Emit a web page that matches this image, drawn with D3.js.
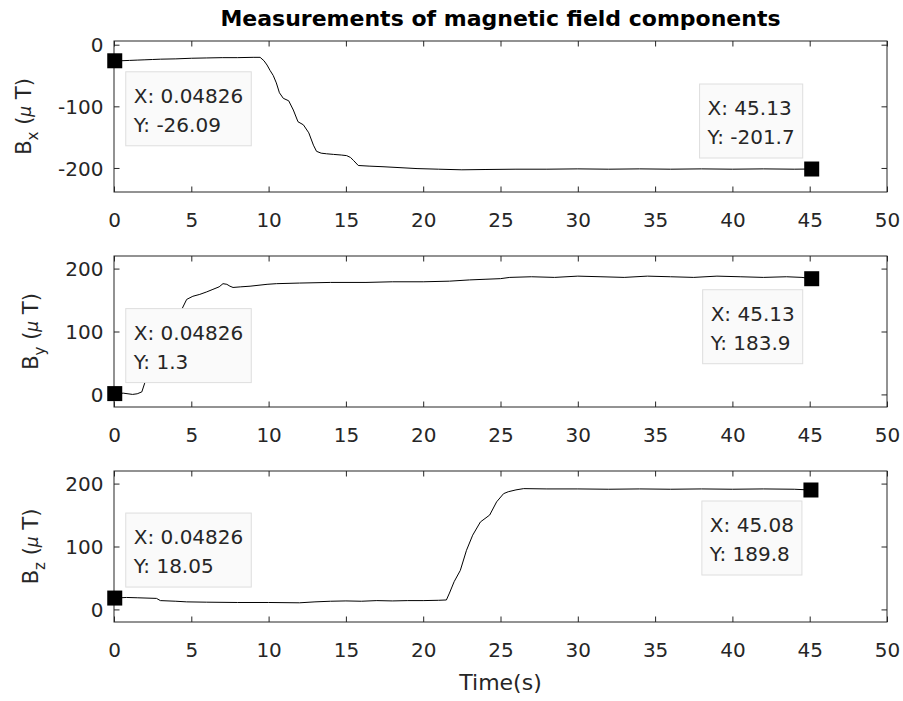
<!DOCTYPE html>
<html>
<head>
<meta charset="utf-8">
<script src="https://cdn.jsdelivr.net/npm/d3@7"></script>
<style>
  body { margin: 0; background: #fff; }
  svg { display: block; font-family: "DejaVu Sans", sans-serif; }
</style>
</head>
<body>
<svg id="chart"></svg>
<script>
// readings taken off the figure
const xTickValues = [0, 5, 10, 15, 20, 25, 30, 35, 40, 45, 50];

const bxTime = [0.048, 0.5, 1.0, 1.5, 2.0, 2.5, 3, 4, 5, 6, 7, 8, 9, 9.45, 9.7, 9.9, 10.1, 10.3, 10.5, 10.7, 10.95, 11.3, 11.6, 11.9, 12.25, 12.6, 12.9, 13.1, 13.4, 13.75, 14.2, 14.7, 15.05, 15.3, 15.5, 15.8, 16.5, 17.4, 18.5, 19.6, 21, 22.5, 24, 26, 28, 30, 32, 34, 36, 38, 40, 42, 44, 45.13];
const bxValues = [-26.09, -26, -25.5, -25, -24.5, -24, -23.5, -23, -22, -21.5, -21, -21, -20.5, -20.5, -26, -33, -42, -50, -62, -78, -87, -91, -106, -125, -130, -143, -163, -173, -176, -177, -178, -179, -180, -183, -188, -196, -197, -198, -199.5, -201, -202, -203, -202.5, -202, -202, -201.5, -202, -201.5, -202, -201.5, -202, -201.5, -202, -201.7];

const byTime = [0.048, 0.6, 1.2, 1.5, 1.8, 2.0, 2.3, 2.7, 3.2, 3.7, 4.1, 4.4, 4.7, 5.1, 5.55, 6.0, 6.4, 6.8, 7.05, 7.3, 7.5, 7.7, 8.2, 8.8, 9.9, 10.5, 12, 14, 16.3, 18, 20, 21.7, 23, 24, 25, 25.6, 27, 28.5, 30, 31.5, 33, 34.5, 36, 37.5, 39, 40.5, 42, 43.5, 44.5, 45.13];
const byValues = [1.3, 2, 0, 1, 4, 19, 40, 65, 90, 112, 128, 136, 151, 156, 159, 163, 167, 171, 176, 175, 172, 170, 171, 172, 175, 176, 177, 178, 178, 179, 179, 180, 182, 183, 184, 186, 187, 186, 188, 187, 186, 188, 187, 186, 188, 187, 186, 187, 186, 183.9];

const bzTime = [0.048, 0.8, 1.5, 2.75, 3.0, 4.0, 4.7, 6, 8, 10, 12, 13, 14, 15, 16, 17, 18, 19, 20, 21, 21.5, 21.7, 22.0, 22.4, 22.8, 23.2, 23.7, 24.3, 24.75, 25.2, 25.5, 26.0, 26.5, 28, 30, 32, 34, 36, 38, 40, 42, 44, 45.08];
const bzValues = [18.05, 19, 18.5, 17.5, 14, 13, 12, 11.5, 11, 11, 10.5, 12, 13, 13.5, 13, 14, 13.5, 14, 14, 14.5, 15, 26, 44, 62, 94, 118, 139, 150, 171, 184, 187, 190, 192, 191.5, 191.5, 191, 191.5, 191, 191.5, 191, 191.5, 191, 189.8];

const bxTicks = [-200, -100, 0];
const byTicks = [0, 100, 200];
const bzTicks = [0, 100, 200];

const bxDomain = [-239, 6];
const byDomain = [-20, 220];
const bzDomain = [-20, 220];

const bxTips = [{ x: 0.04826, y: -26.09, label: ["X: 0.04826", "Y: -26.09"] }, { x: 45.13, y: -201.7, label: ["X: 45.13", "Y: -201.7"] }];
const byTips = [{ x: 0.04826, y: 1.3, label: ["X: 0.04826", "Y: 1.3"] }, { x: 45.13, y: 183.9, label: ["X: 45.13", "Y: 183.9"] }];
const bzTips = [{ x: 0.04826, y: 18.05, label: ["X: 0.04826", "Y: 18.05"] }, { x: 45.08, y: 189.8, label: ["X: 45.08", "Y: 189.8"] }];

const panels = [
  { sub: "x", time: bxTime, values: bxValues, ticks: bxTicks, domain: bxDomain, tips: bxTips },
  { sub: "y", time: byTime, values: byValues, ticks: byTicks, domain: byDomain, tips: byTips },
  { sub: "z", time: bzTime, values: bzValues, ticks: bzTicks, domain: bzDomain, tips: bzTips },
];

const width = 903, height = 701;
const left = 114, right = 887, top0 = 41, panelH = 151, gap = 64;
const axisColor = "#262626";
const plain = (d) => String(d); // hyphen minus like the original

const svg = d3.select("#chart").attr("width", width).attr("height", height);

const x = d3.scaleLinear().domain([0, 50]).range([left, right]);

svg.append("text")
  .attr("x", (left + right) / 2)
  .attr("y", 26)
  .attr("text-anchor", "middle")
  .attr("font-size", 22)
  .attr("font-weight", "bold")
  .attr("fill", "#000")
  .text("Measurements of magnetic field components");

panels.forEach((p, i) => {
  const top = top0 + i * (panelH + gap);
  const bottom = top + panelH;
  const y = d3.scaleLinear().domain(p.domain).range([bottom, top]);
  const g = svg.append("g");

  // data line
  const pts = p.time.map((t, k) => [t, p.values[k]]);
  g.append("path")
    .datum(pts)
    .attr("fill", "none")
    .attr("stroke", "#000")
    .attr("stroke-width", 1)
    .attr("d", d3.line().x((d) => x(d[0])).y((d) => y(d[1])));

  // axes box
  g.append("rect")
    .attr("x", left).attr("y", top)
    .attr("width", right - left).attr("height", panelH)
    .attr("fill", "none").attr("stroke", axisColor).attr("stroke-width", 1);

  const bottomAxis = g.append("g")
    .attr("transform", `translate(0,${bottom})`)
    .call(d3.axisBottom(x).tickValues(xTickValues).tickFormat(plain).tickSizeInner(-5.5).tickSizeOuter(0));
  bottomAxis.selectAll("text").attr("y", 35).attr("dy", 0);

  g.append("g")
    .attr("transform", `translate(0,${top})`)
    .call(d3.axisTop(x).tickValues(xTickValues).tickSizeInner(-5.5).tickSizeOuter(0).tickFormat(""));

  const leftAxis = g.append("g")
    .attr("transform", `translate(${left},0)`)
    .call(d3.axisLeft(y).tickValues(p.ticks).tickFormat(plain).tickSizeInner(-5.5).tickSizeOuter(0).tickPadding(10.5));
  leftAxis.selectAll("text").attr("dy", "0.36em");

  g.append("g")
    .attr("transform", `translate(${right},0)`)
    .call(d3.axisRight(y).tickValues(p.ticks).tickSizeInner(-5.5).tickSizeOuter(0).tickFormat(""));

  g.selectAll(".domain").remove();
  g.selectAll(".tick line").attr("stroke", axisColor);
  g.selectAll(".tick text").attr("fill", axisColor).attr("font-size", 20).attr("font-family", "DejaVu Sans, sans-serif");

  // y label placed just left of the widest tick label
  let minX = Infinity;
  leftAxis.selectAll("text").each(function () {
    const b = this.getBBox();
    minX = Math.min(minX, left - 10.5 - b.width);
  });
  const lx = minX - 27;
  const yl = g.append("text")
    .attr("transform", `translate(${lx},${(top + bottom) / 2}) rotate(-90)`)
    .attr("text-anchor", "middle")
    .attr("font-size", 21)
    .attr("fill", axisColor);
  yl.append("tspan").text("B");
  yl.append("tspan").attr("dy", 7).attr("font-size", 15).text(p.sub);
  yl.append("tspan").attr("dy", -7).text(" (");
  yl.append("tspan").attr("font-style", "italic").attr("font-size", 17).text("\u03bc");
  yl.append("tspan").text(" T)");

  // data tips
  p.tips.forEach((tip) => {
    const mx = x(tip.x), my = y(tip.y);
    const tg = g.append("g");
    const box = tg.append("rect")
      .attr("fill", "#fafafa")
      .attr("stroke", "#dedede")
      .attr("stroke-width", 1);
    const texts = tip.label.map((s, k) =>
      tg.append("text")
        .attr("font-size", 20)
        .attr("fill", "#262626")
        .attr("y", 31 + k * 29)
        .text(s)
    );
    const tw = d3.max(texts, (t) => t.node().getComputedTextLength());
    const bw = tw + 16, bh = 74;
    texts.forEach((t) => t.attr("x", 8));
    box.attr("width", bw).attr("height", bh);
    const bx = mx < (left + right) / 2 ? mx + 11 : mx - 9 - bw;
    const by = my < (top + bottom) / 2 ? my + 11 : my - 11 - bh;
    tg.attr("transform", `translate(${bx},${by})`);

    g.append("rect")
      .attr("x", mx - 7.5).attr("y", my - 7.5)
      .attr("width", 15).attr("height", 15)
      .attr("fill", "#000");
  });
});

svg.append("text")
  .attr("x", (left + right) / 2)
  .attr("y", 690)
  .attr("text-anchor", "middle")
  .attr("font-size", 22)
  .attr("fill", axisColor)
  .text("Time(s)");
</script>
</body>
</html>
